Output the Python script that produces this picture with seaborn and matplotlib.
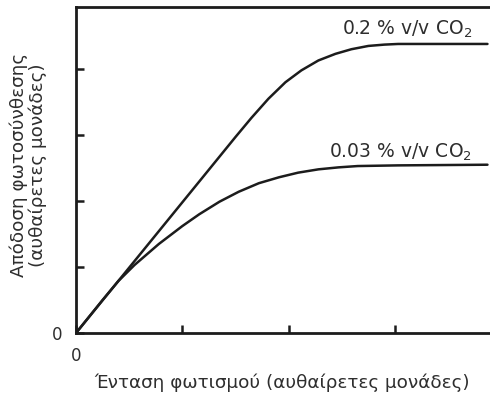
import matplotlib
matplotlib.use("Agg")
import matplotlib.pyplot as plt
import seaborn as sns
import pandas as pd

# ---- data (arbitrary units) ----
x_high = [0.00, 1.00, 1.50, 1.65, 1.81, 1.97, 2.12, 2.28, 2.44, 2.59, 2.75, 2.90, 3.03, 3.87]
y_high = [0.00, 1.98, 2.97, 3.26, 3.55, 3.80, 3.98, 4.13, 4.23, 4.30, 4.35, 4.37, 4.38, 4.38]

x_low = [0.00, 0.25, 0.40, 0.55, 0.78, 1.00, 1.16, 1.35, 1.53, 1.72, 1.91, 2.09, 2.28, 2.47, 2.65, 3.03, 3.87]
y_low = [0.00, 0.50, 0.79, 1.03, 1.35, 1.62, 1.80, 1.99, 2.14, 2.27, 2.36, 2.43, 2.48, 2.51, 2.53, 2.54, 2.55]

series_names = ["0.2 % v/v CO$_2$", "0.03 % v/v CO$_2$"]
x_label = "Ένταση φωτισμού (αυθαίρετες μονάδες)"
y_label = "Απόδοση φωτοσύνθεσης\n(αυθαίρετες μονάδες)"
x_ticks = [0, 1, 2, 3]
y_ticks = [0, 1, 2, 3, 4]
x_tick_labels = ["0", "", "", ""]
y_tick_labels = ["0", "", "", "", ""]

df = pd.concat([
    pd.DataFrame({"x": x_high, "y": y_high, "series": series_names[0]}),
    pd.DataFrame({"x": x_low, "y": y_low, "series": series_names[1]}),
])

sns.set_style("white")
plt.rcParams["font.family"] = ["DejaVu Sans"]

INK = "#1c1c1c"
TXT = "#2e2e2e"

fig = plt.figure(figsize=(4.9, 4.04), dpi=100)
ax = fig.add_axes([76 / 490, (404 - 333) / 404, 1 - 76 / 490 + 0.01, (333 - 7) / 404])

sns.lineplot(data=df, x="x", y="y", hue="series",
             palette=[INK, INK], linewidth=1.8,
             legend=False, ax=ax, sort=False, estimator=None)

ax.set_xlim(0, 3.94)
ax.set_ylim(0, 4.94)

for side in ["left", "bottom", "top"]:
    ax.spines[side].set_visible(True)
    ax.spines[side].set_color(INK)
    ax.spines[side].set_linewidth(2.0)
ax.spines["right"].set_visible(False)

ax.set_xticks(x_ticks)
ax.set_xticklabels(x_tick_labels)
ax.set_yticks(y_ticks)
ax.set_yticklabels(y_tick_labels)
ax.tick_params(axis="both", which="major", direction="in", length=6, width=1.8,
               color=INK, labelsize=12, labelcolor=TXT,
               bottom=True, left=True, top=False, right=False)
ax.tick_params(axis="x", pad=10)
ax.tick_params(axis="y", pad=10)

# curve labels
ax.text(3.73, (333 - 35) / 66, series_names[0], ha="right", va="baseline",
        fontsize=13.5, color=TXT)
ax.text(3.73, (333 - 158) / 66, series_names[1], ha="right", va="baseline",
        fontsize=13.5, color=TXT)

ax.set_xlabel(x_label, fontsize=13.2, color=TXT)
ax.xaxis.set_label_coords((280 - 76) / 414, -(383 - 333) / 326)
ax.xaxis.label.set_va("center")
ax.set_ylabel(y_label, fontsize=13.2, color=TXT, linespacing=1.05)
ax.yaxis.set_label_coords(-(76 - 29) / 414, (333 - 165) / 326)
ax.yaxis.label.set_va("center")

fig.savefig("out.png", dpi=100)
